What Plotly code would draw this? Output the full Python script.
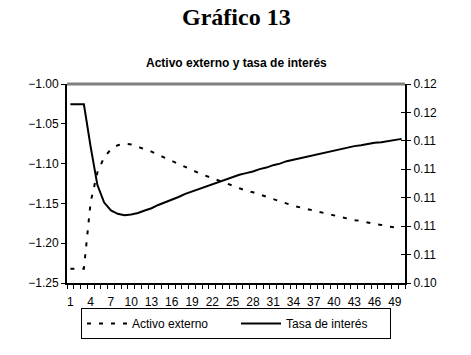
import plotly.graph_objects as go

periods = list(range(1, 51))

activo_externo = [
    -1.232, -1.232, -1.232, -1.148, -1.111, -1.092, -1.082, -1.077, -1.075, -1.076,
    -1.079, -1.082, -1.085, -1.089, -1.093, -1.096, -1.100, -1.104, -1.108, -1.112,
    -1.115, -1.119, -1.122, -1.125, -1.128, -1.131, -1.134, -1.136, -1.139, -1.142,
    -1.145, -1.148, -1.150, -1.153, -1.155, -1.157, -1.159, -1.161, -1.163, -1.165,
    -1.167, -1.169, -1.171, -1.172, -1.174, -1.176, -1.177, -1.179, -1.180, -1.182,
]

tasa_interes = [
    0.11657, 0.11657, 0.11657, 0.11358, 0.11089, 0.10966, 0.10910, 0.10887, 0.10876, 0.10882,
    0.10893, 0.10910, 0.10926, 0.10949, 0.10966, 0.10988, 0.11005, 0.11027, 0.11044, 0.11061,
    0.11078, 0.11094, 0.11111, 0.11128, 0.11145, 0.11162, 0.11173, 0.11184, 0.11201, 0.11212,
    0.11229, 0.11240, 0.11257, 0.11268, 0.11279, 0.11290, 0.11302, 0.11313, 0.11324, 0.11335,
    0.11346, 0.11352, 0.11363, 0.11369, 0.11380, 0.11386, 0.11391, 0.11397, 0.11408, 0.11414,
]

x_tick_vals = list(range(1, 51, 3))

FONT = "Liberation Sans, Arial, sans-serif"

fig = go.Figure()
fig.add_trace(go.Scatter(
    x=periods, y=activo_externo, name="Activo externo", mode="lines",
    line=dict(color="black", width=2, dash="4px,8px"), yaxis="y",
))
fig.add_trace(go.Scatter(
    x=periods, y=tasa_interes, name="Tasa de interés", mode="lines",
    line=dict(color="black", width=2), yaxis="y2",
))

fig.update_layout(
    width=471, height=355,
    margin=dict(l=67, r=66, t=84, b=72),
    paper_bgcolor="white", plot_bgcolor="white",
    font=dict(family=FONT, size=12, color="black"),
    showlegend=True,
    legend=dict(
        orientation="h", x=0.5, xanchor="center", y=-0.125, yanchor="top",
        bordercolor="black", borderwidth=1, font=dict(size=12, family=FONT),
        itemwidth=40, tracegroupgap=0, entrywidth=99, entrywidthmode="pixels",
    ),
    xaxis=dict(
        range=[0.5, 50.5], tickmode="array", tickvals=x_tick_vals,
        ticks="outside", ticklen=7, tickcolor="rgba(0,0,0,0)",
        showline=True, linecolor="black", linewidth=2, showgrid=False, zeroline=False,
        minor=dict(tick0=0.5, dtick=1, ticks="outside", ticklen=4, tickcolor="black", tickwidth=1),
    ),
    yaxis=dict(
        range=[-1.25, -1.00], dtick=0.05, tick0=-1.25, tickformat=".2f",
        ticks="outside", ticklen=4, tickcolor="black",
        showline=True, linecolor="black", linewidth=2, showgrid=False, zeroline=False,
    ),
    yaxis2=dict(
        range=[0.104, 0.118], dtick=0.002, tick0=0.104, tickformat=".2f",
        overlaying="y", side="right", anchor="x",
        ticks="outside", ticklen=4, tickcolor="black",
        showline=True, linecolor="black", linewidth=2, showgrid=False, zeroline=False,
    ),
    yaxis3=dict(
        range=[0.104, 0.118], dtick=0.002, tick0=0.104,
        overlaying="y", side="right", anchor="x",
        ticks="inside", ticklen=4, tickcolor="black", showticklabels=False,
        showline=False, showgrid=False, zeroline=False,
    ),
    shapes=[dict(
        type="line", xref="paper", yref="paper", x0=0, x1=1, y0=1, y1=1,
        line=dict(color="#808080", width=3),
    )],
    annotations=[
        dict(text="<b>Gráfico 13</b>", xref="paper", yref="paper", x=0.5, y=1,
             xanchor="center", yanchor="middle", yshift=84 - 17, showarrow=False,
             font=dict(family="Liberation Serif, Times New Roman, serif", size=24, color="black")),
        dict(text="<b>Activo externo y tasa de interés</b>", xref="paper", yref="paper",
             x=0.5, y=1, xanchor="center", yanchor="middle", yshift=84 - 63, showarrow=False,
             font=dict(family=FONT, size=12, color="black")),
    ],
)

# invisible trace so the inside-tick overlay axis is rendered
fig.add_trace(go.Scatter(x=[1], y=[0.11], yaxis="y3", mode="markers",
                         marker=dict(opacity=0), showlegend=False, hoverinfo="skip"))

fig.write_html("out.html")
